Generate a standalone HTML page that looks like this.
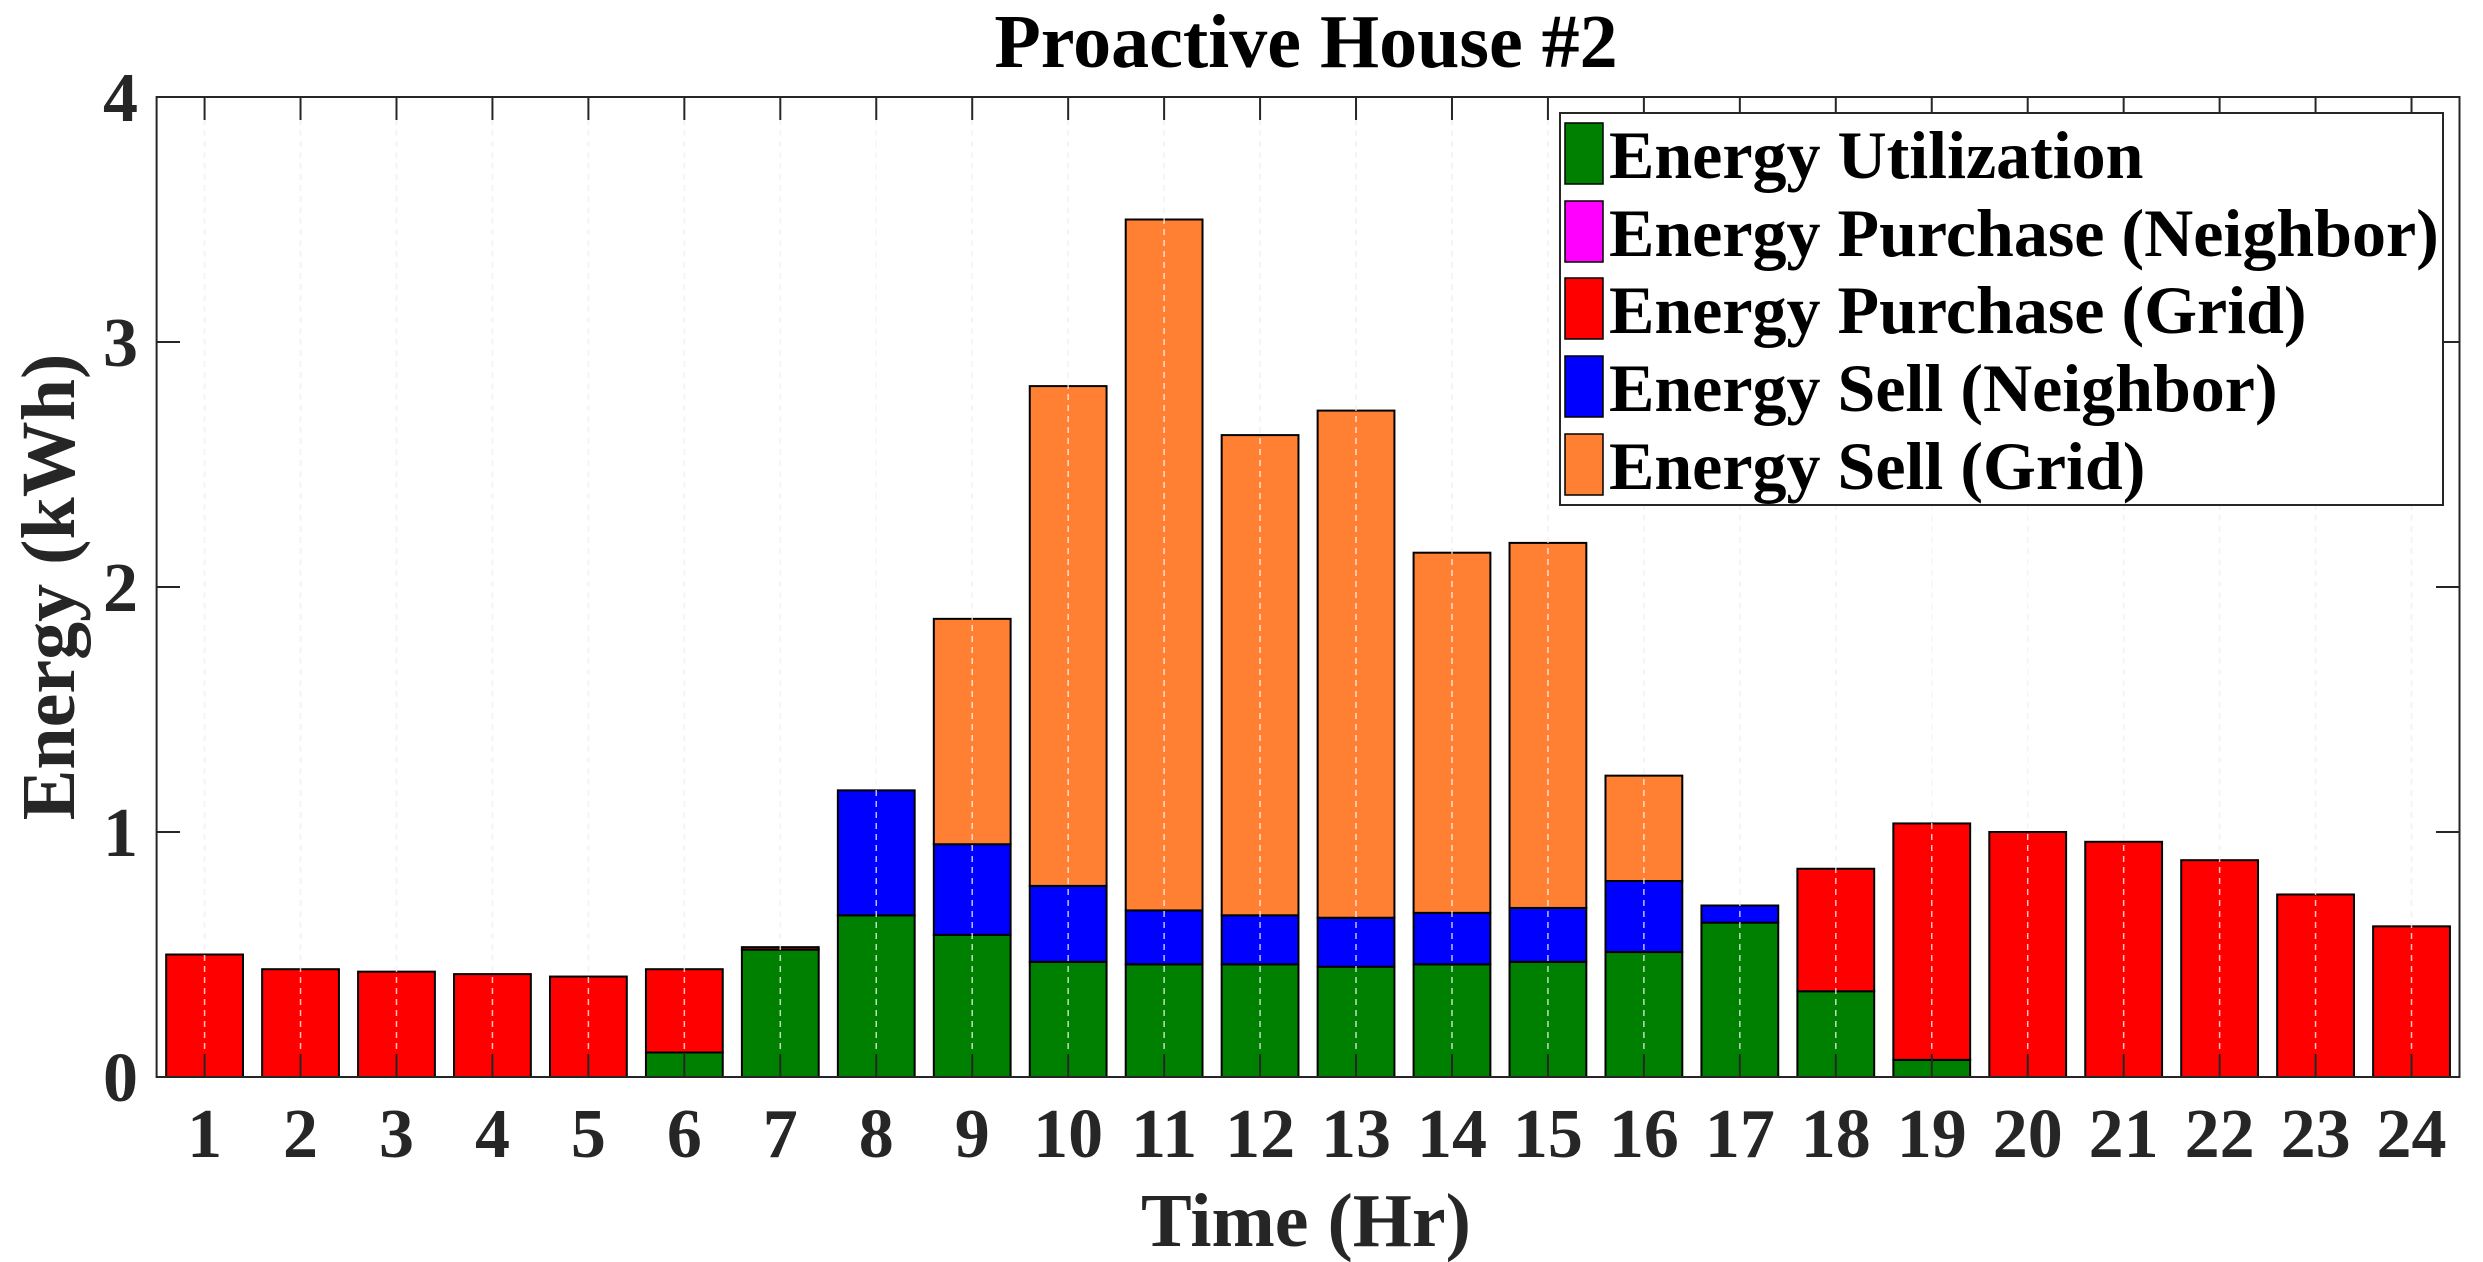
<!DOCTYPE html>
<html><head><meta charset="utf-8"><style>html,body{margin:0;padding:0;background:#fff}svg{display:block}</style></head>
<body>
<svg width="2483" height="1262" viewBox="0 0 2483 1262" xmlns="http://www.w3.org/2000/svg" font-family="'Liberation Serif', serif" font-weight="bold">
<rect width="2483" height="1262" fill="#fff"/>
<g id="grid" stroke="#d8d8d8" stroke-width="1.5" stroke-dasharray="6,5"></g>
<g id="bars" stroke="#000" stroke-width="2"></g>
<g id="grid2" stroke="#fff" stroke-opacity="0.75" stroke-width="1.5" stroke-dasharray="6,5"></g>
<g id="ticks" stroke="#262626" stroke-width="2"></g>
<rect x="156.6" y="97" width="2302.9" height="980" fill="none" stroke="#262626" stroke-width="2"/>
<g id="xl" fill="#262626" font-size="70" text-anchor="middle"></g>
<g fill="#262626" font-size="70" text-anchor="end">
<text x="138" y="1101">0</text><text x="138" y="856">1</text><text x="138" y="611">2</text><text x="138" y="366">3</text><text x="138" y="121">4</text>
</g>
<text x="1306" y="67" font-size="76" text-anchor="middle" fill="#000">Proactive House #2</text>
<text x="1306" y="1246" font-size="76" text-anchor="middle" fill="#262626">Time (Hr)</text>
<text transform="translate(74,587) rotate(-90)" font-size="76" text-anchor="middle" fill="#262626">Energy (kWh)</text>
<g>
<rect x="1560" y="113" width="883" height="392" fill="#fff" stroke="#262626" stroke-width="2"/>
<g stroke="#000" stroke-width="1.5">
<rect x="1565" y="123" width="38" height="61" fill="#008000"/>
<rect x="1565" y="201" width="38" height="61" fill="#ff00ff"/>
<rect x="1565" y="278" width="38" height="61" fill="#ff0000"/>
<rect x="1565" y="356" width="38" height="61" fill="#0000ff"/>
<rect x="1565" y="434" width="38" height="61" fill="#ff8033"/>
</g>
<g font-size="68" fill="#000">
<text x="1609" y="178">Energy Utilization</text>
<text x="1609" y="256">Energy Purchase (Neighbor)</text>
<text x="1609" y="333">Energy Purchase (Grid)</text>
<text x="1609" y="411">Energy Sell (Neighbor)</text>
<text x="1609" y="489">Energy Sell (Grid)</text>
</g>
</g>
<script>
var d=[[0,.5,0,0],[0,.44,0,0],[0,.43,0,0],[0,.42,0,0],[0,.41,0,0],[.1,.34,0,0],[.52,.01,0,0],[.66,0,.51,0],[.58,0,.37,.92],[.47,0,.31,2.04],[.46,0,.22,2.82],[.46,0,.2,1.96],[.45,0,.2,2.07],[.46,0,.21,1.47],[.47,0,.22,1.49],[.51,0,.29,.43],[.63,0,.07,0],[.35,.5,0,0],[.07,.965,0,0],[0,1.0,0,0],[0,.96,0,0],[0,.885,0,0],[0,.745,0,0],[0,.615,0,0]];
var cols=['#008000','#ff0000','#0000ff','#ff8033'];
var ns='http://www.w3.org/2000/svg';
function el(p,t,a){var e=document.createElementNS(ns,t);for(var k in a)e.setAttribute(k,a[k]);p.appendChild(e);return e;}
var L=156.6,S=95.954,Y0=1077,U=245;
var g=document.getElementById('grid'),g2=document.getElementById('grid2'),b=document.getElementById('bars'),tk=document.getElementById('ticks'),xl=document.getElementById('xl');
for(var i=0;i<24;i++){var cx=L+(i+0.5)*S;
el(g,'line',{x1:cx,y1:97,x2:cx,y2:1077});el(g2,'line',{x1:cx,y1:97,x2:cx,y2:1077});
el(tk,'line',{x1:cx,y1:97,x2:cx,y2:120});el(tk,'line',{x1:cx,y1:1077,x2:cx,y2:1054});
var t=el(xl,'text',{x:cx,y:1157});t.textContent=(i+1);
var base=0;for(var j=0;j<4;j++){var v=d[i][j];if(v>0){el(b,'rect',{x:cx-38.4,y:Y0-(base+v)*U,width:76.8,height:v*U,fill:cols[j]});base+=v;}}}
for(var k=1;k<4;k++){var y=Y0-k*U;el(tk,'line',{x1:156.6,y1:y,x2:180,y2:y});el(tk,'line',{x1:2459.5,y1:y,x2:2436,y2:y});}
</script>
</svg>
</body></html>
